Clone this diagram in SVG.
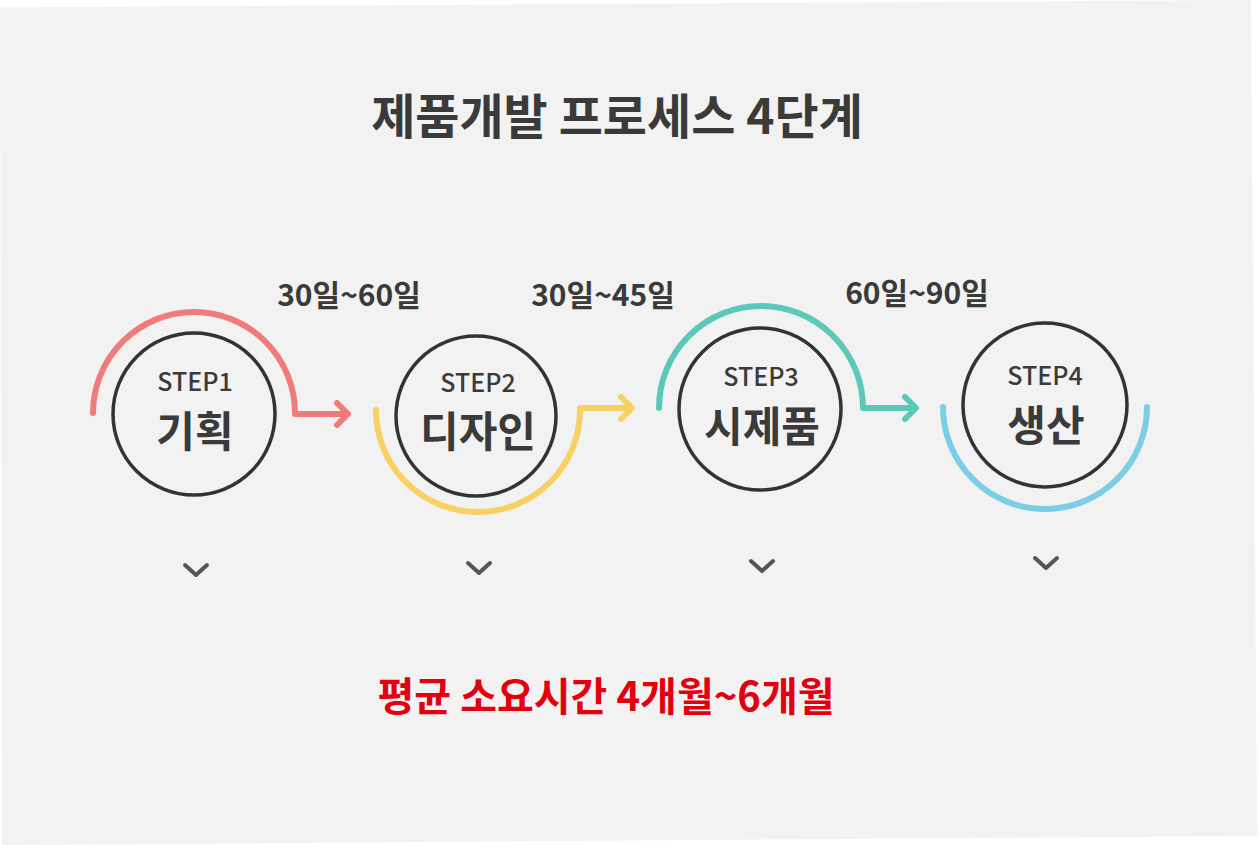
<svg xmlns="http://www.w3.org/2000/svg" width="1259" height="845" viewBox="0 0 1259 845">
<style>
.t{font-family:"Noto Sans CJK KR","Noto Sans",sans-serif;font-weight:700;fill:#3a3a3a;text-anchor:middle}
.step{font-family:"Noto Sans CJK KR","Noto Sans",sans-serif;font-weight:500;fill:#3a3a3a;text-anchor:middle;font-size:25px}
.lbl{font-size:42px}
.dur{font-size:30px}
.ring{fill:none;stroke:#333;stroke-width:3.5}
.arc{fill:none;stroke-width:6;stroke-linecap:round;stroke-linejoin:round}
.chev{fill:none;stroke:#555;stroke-width:4;stroke-linecap:round;stroke-linejoin:round}
</style>
<rect width="1259" height="845" fill="#ffffff"/>
<polygon points="0,7.5 1251,0 1257,836 2,845" fill="#f2f2f2"/>
<text class="t" x="617" y="134" font-size="48">제품개발 프로세스 4단계</text>
<g id="connectors">
<path class="arc" stroke="#f07b7b" d="M93,413 A101,101 0 0 1 295,413 L295,414 L348,414 M337,403 L348,414 L337,425"/>
<path class="arc" stroke="#f8d165" d="M376,410 A102,102 0 0 0 580,410 L580,408 L632,408 M621,397 L632,408 L621,419"/>
<path class="arc" stroke="#5cc8ba" d="M659,408 A102,102 0 0 1 863,408 L916,408 M905,397 L916,408 L905,419"/>
<path class="arc" stroke="#7ccde6" d="M943,407 A102,102 0 0 0 1147,407"/>
</g>
<g id="step1">
<circle class="ring" cx="194" cy="414" r="81"/>
<text class="step" x="195" y="391">STEP1</text>
<text class="t lbl" x="195" y="447">기획</text>
<path class="chev" d="M185,565 L196,575 L207,565"/>
</g>
<g id="step2">
<circle class="ring" cx="476" cy="416" r="80"/>
<text class="step" x="478" y="392">STEP2</text>
<text class="t lbl" x="478" y="447">디자인</text>
<path class="chev" d="M468,563 L479,573 L490,563"/>
</g>
<g id="step3">
<circle class="ring" cx="760" cy="409" r="81"/>
<text class="step" x="761" y="386">STEP3</text>
<text class="t lbl" x="762" y="442">시제품</text>
<path class="chev" d="M751,561 L762,571 L773,561"/>
</g>
<g id="step4">
<circle class="ring" cx="1045" cy="405" r="82"/>
<text class="step" x="1045" y="385">STEP4</text>
<text class="t lbl" x="1046" y="441">생산</text>
<path class="chev" d="M1035,558 L1046,568 L1057,558"/>
</g>
<g id="durations">
<text class="t dur" x="349" y="306">30일~60일</text>
<text class="t dur" x="603" y="306">30일~45일</text>
<text class="t dur" x="917" y="304">60일~90일</text>
</g>
<text class="t" x="606" y="711" font-size="40" style="fill:#e3000f">평균 소요시간 4개월~6개월</text>
</svg>
